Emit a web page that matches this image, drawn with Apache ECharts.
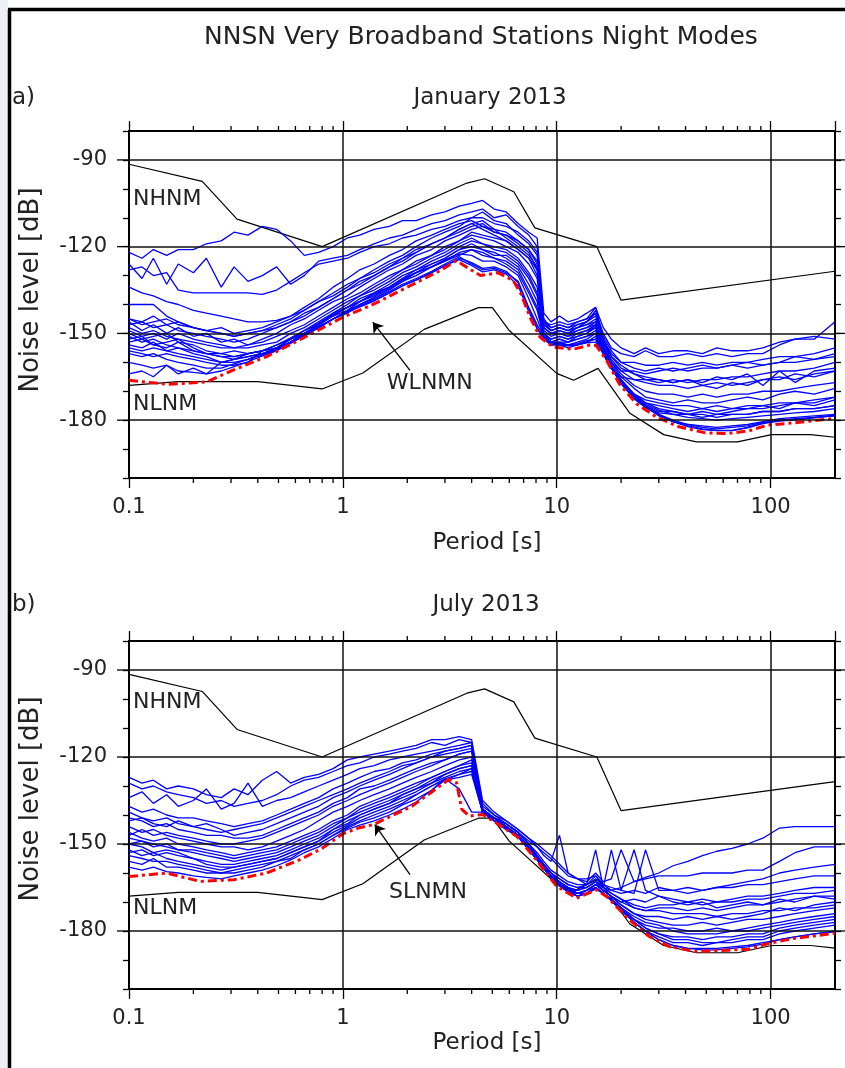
<!DOCTYPE html>
<html>
<head>
<meta charset="utf-8">
<script src="https://cdn.jsdelivr.net/npm/echarts@6/dist/echarts.min.js"></script>
<style>
  html, body { margin: 0; padding: 0; background: #fff; }
  #chart { width: 845px; height: 1068px; }
</style>
</head>
<body>
<div id="chart"></div>
<script>
// axis ranges (period in s, noise level in dB)
const X_MIN = 0.1, X_MAX = 200, Y_MIN = -200, Y_MAX = -80
const GRID_X = [1, 10, 100]
const GRID_Y = [-90, -120, -150, -180]
const MINOR_X = [0.2, 0.3, 0.4, 0.5, 0.6, 0.7, 0.8, 0.9, 2, 3, 4, 5, 6, 7, 8, 9, 20, 30, 40, 50, 60, 70, 80, 90]

// Peterson noise models
const NHNM_PERIODS = [0.1, 0.22, 0.32, 0.8, 3.8, 4.6, 6.3, 7.9, 15.4, 20, 200]
const NHNM_DB = [-91.5, -97.4, -110.5, -120, -98, -96.5, -101, -113.5, -120, -138.5, -128.5]
const NLNM_PERIODS = [0.1, 0.17, 0.4, 0.8, 1.24, 2.4, 4.3, 5, 6, 10, 12, 15.6, 21.9, 31.6, 45, 70, 101, 154, 200]
const NLNM_DB = [-168, -166.7, -166.7, -169.2, -163.7, -148.6, -141.1, -141.1, -149, -163.8, -166.2, -162.1, -177.5, -185, -187.5, -187.5, -185, -185, -185.9]

// network minimum (red dash-dot)
const WLNMN_PERIODS = [0.1, 0.15, 0.23, 0.3, 0.44, 0.63, 1.0, 1.4, 2.0, 2.85, 3.4, 3.7, 4.4, 5.3, 6.26, 6.8, 7.5, 8.35, 9.6, 11.9, 14.3, 15.3, 17.1, 19.6, 23.6, 29.2, 37.3, 49.5, 63, 79, 97, 130, 200]
const WLNMN_DB = [-166.2, -167.6, -166.8, -163, -158, -152.2, -144.4, -139.8, -134, -128.3, -124.8, -126.6, -130, -129, -131.7, -136.3, -144.4, -151.3, -154.7, -155.5, -154, -154.2, -159.3, -167.4, -174.3, -178.9, -182.3, -184.4, -184.6, -183.7, -181.7, -180.9, -179.4]
const SLNMN_PERIODS = [0.1, 0.15, 0.215, 0.31, 0.44, 0.63, 0.8, 1.0, 1.18, 1.39, 2.1, 3.14, 3.4, 3.6, 3.9, 4.5, 5.2, 6.5, 8.0, 10, 12.4, 15.3, 17.1, 21.9, 27.1, 33.7, 45, 63, 78.6, 97.5, 130, 200]
const SLNMN_DB = [-161.2, -160, -162.9, -162.3, -160, -155.4, -151.5, -146.5, -144.5, -143.3, -137, -127.7, -128.9, -138.1, -140.4, -139.8, -142.7, -147.3, -155.4, -164.6, -168.7, -165.8, -168.1, -176.2, -181.9, -185.4, -187.1, -186.6, -186.3, -184.3, -182.5, -180.8]

// station night modes, one value per period below
const PERIODS = [
  0.1, 0.115, 0.13, 0.15, 0.17,
  0.2, 0.23, 0.27, 0.31, 0.36,
  0.42, 0.49, 0.57, 0.66, 0.77,
  0.9, 1.05, 1.2, 1.4, 1.65,
  1.9, 2.2, 2.6, 3.0, 3.5,
  4.0, 4.5, 5.1, 5.8, 6.6,
  7.4, 8.1, 8.7, 9.4, 10.3,
  11.3, 12.5, 13.8, 15.2, 16.5,
  18, 20, 23, 26, 30,
  35, 41, 48, 56, 66,
  78, 92, 110, 130, 160, 200
]

const JAN_STATIONS = [
  [-122,-124,-121,-123,-121, -121,-119,-118,-115,-116, -113,-114,-118,-123,-122, -120,-117,-116,-114,-113, -111,-111,-109,-108,-106, -105,-104,-107,-108,-112, -115,-117,-143,-146,-144, -146,-145,-143,-141,-148, -152,-155,-157,-155,-157, -156,-156,-157,-155,-156, -156,-155,-153,-152,-151,-152],
  [-126,-131,-124,-133,-126, -129,-124,-134,-127,-132, -130,-127,-133,-130,-125, -124,-123,-121,-119,-117, -116,-114,-112,-111,-109, -108,-107,-110,-109,-113, -116,-120,-146,-147,-146, -147,-146,-145,-143,-150, -155,-157,-158,-156,-158, -158,-157,-158,-157,-158, -157,-157,-154,-152,-152,-146],
  [-128,-127,-130,-129,-135, -136,-136,-136,-136,-136, -136.5,-135,-132,-129,-126, -125,-124,-122,-120,-119, -117,-116,-114,-113,-111, -110,-110,-112,-113,-115, -118,-122,-145,-148,-147, -148,-147,-146,-144,-152, -157,-160,-160,-161,-161, -160,-161,-160,-161,-160, -160,-159,-158,-158,-157,-155],
  [-134,-136,-137,-139,-140, -142,-143,-144,-145,-146, -146,-145.5,-144,-141,-138, -134,-131,-128,-126,-123, -121,-118,-116,-114,-112, -111,-113,-115,-116,-118, -121,-125,-147,-149,-148, -149,-148,-147,-146,-154, -160,-163,-163,-164,-163, -162,-163,-162,-162,-161, -162,-161,-160,-160,-159,-158],
  [-140,-140,-140,-144,-146, -148,-149,-150,-151,-150, -149,-148,-146,-144,-141, -138,-135,-133,-130,-127, -125,-122,-119,-117,-114, -112,-114,-116,-118,-121, -124,-128,-148,-150,-149, -150,-149,-148,-147,-156, -162,-165,-166,-166,-167, -166,-167,-166,-166,-165, -165,-164,-163,-163,-162,-160],
  [-145,-146,-144,-147,-146, -148,-149,-148,-150,-149, -148,-146,-144,-142,-139, -136,-133,-131,-129,-126, -124,-121,-119,-117,-114, -112,-111,-114,-115,-118, -121,-126,-148,-150,-149, -150,-148,-147,-145,-153, -158,-161,-164,-165,-166, -167,-166,-168,-167,-168, -167,-166,-165,-166,-164,-163],
  [-148,-150,-149,-151,-152, -153,-154,-155,-155,-154, -153,-151,-149,-147,-144, -141,-138,-136,-133,-130, -128,-125,-123,-120,-118, -116,-117,-118,-120,-122, -126,-131,-149,-151,-150, -151,-150,-149,-148,-155, -160,-164,-168,-170,-171, -171,-172,-171,-172,-171, -171,-170,-170,-169,-168,-167],
  [-150,-152,-151,-150,-153, -154,-156,-157,-156,-157, -156,-154,-152,-149,-146, -143,-140,-137,-135,-132, -129,-127,-124,-122,-119, -117,-119,-120,-121,-124, -129,-134,-150,-152,-151, -152,-151,-150,-148,-156, -162,-167,-171,-173,-174, -175,-175,-176,-175,-176, -175,-175,-174,-174,-173,-172],
  [-152,-151,-154,-153,-152, -155,-157,-158,-159,-158, -157,-155,-153,-150,-148, -145,-142,-139,-137,-134, -131,-128,-126,-124,-121, -120,-121,-122,-124,-127, -133,-139,-151,-153,-152, -153,-152,-151,-149,-157, -162,-167.5,-172.5,-175.5,-177.5, -178,-178,-179,-178,-178, -178,-177,-177,-176,-176,-175],
  [-154,-155,-153,-156,-155, -157,-158,-160,-160,-159, -157.5,-155.5,-153,-150,-147.5, -145,-142.5,-140,-137.5,-134.5, -132,-130,-127,-125,-123, -121,-123,-124,-126,-129, -136,-142,-151,-154,-153, -154,-153,-152,-150,-157, -162,-166,-171,-174,-176, -177,-178,-178,-179,-178, -178,-177,-177,-176,-176,-175],
  [-156,-157,-158,-157,-158, -159,-160,-161,-161,-160, -156,-154,-151.5,-149,-146.5, -143.5,-141,-139,-136.5,-134, -131.5,-129,-127,-124.5,-122.5, -123,-125,-125,-127,-130, -138,-145,-151,-153,-153.5, -154,-154,-153,-151,-157, -162,-167,-172.5,-175.5,-178, -180,-181.5,-182,-182.5,-182, -181.5,-180.5,-179.5,-179,-178.5,-178],
  [-147,-146,-148,-147,-149, -150,-151,-152,-153,-152, -150,-148,-146,-143,-141, -138,-135,-132,-130,-127, -124,-122,-119,-117,-115, -113,-112,-115,-116,-119, -122,-128,-147,-149,-148, -149,-147,-146,-142,-153, -159,-163,-166,-167,-168, -168,-169,-168,-169,-167, -168,-166,-166,-164,-165,-163],
  [-149,-151,-150,-152,-150, -152,-153,-154,-155,-155, -154,-153,-150,-148,-145, -142,-139,-137,-134,-131, -128,-126,-123,-121,-118, -115,-116,-117,-118,-121, -124,-130,-148,-150,-150, -151,-149,-148,-146,-154, -160,-165,-169,-172,-173, -174,-173,-174,-174,-173, -172,-173,-171,-170,-171,-169],
  [-151,-153,-152,-154,-155, -156,-157,-158,-158,-157, -156,-155,-152,-150,-147, -144,-141,-138,-136,-133, -130,-128,-125,-123,-120, -118,-119,-121,-122,-125, -130,-136,-150,-152,-151, -152,-150,-149,-147,-155, -161,-166,-171,-174,-175, -176,-177,-176,-177,-176, -176,-175,-176,-174,-175,-173],
  [-153,-152,-154,-155,-153, -156,-157,-157,-158,-157, -156,-154,-152,-149,-147, -143,-141,-139,-136,-134, -131,-129,-126,-124,-121, -119,-121,-123,-123,-126, -131,-137,-150,-153,-152, -153,-151,-150,-147,-156, -162,-167,-172,-175,-177, -177,-178,-177,-178,-177, -176,-176,-175,-174,-174,-172],
  [-146,-149,-147,-150,-148, -151,-150,-153,-152,-154, -152,-150,-147,-145,-142, -139,-137,-134,-131,-128, -126,-123,-121,-118,-116, -114,-113,-114,-117,-120, -123,-127,-146,-149,-148, -149,-148,-146,-143,-152, -158,-162,-164,-166,-166, -167,-166,-167,-165,-166, -164,-168,-163,-167,-163,-162],
  [-155,-156,-155,-156,-157, -158,-159,-160,-159,-158, -157,-156,-153,-151,-148, -145,-143,-140,-138,-135, -132,-129,-127,-125,-122, -121,-122,-124,-125,-128, -135,-141,-151,-153,-153, -153,-152,-151,-150,-157, -162,-166.5,-171.5,-174.5,-176.5, -178,-179,-179.5,-180,-179.5, -179,-178.5,-178,-177.5,-177,-176],
  [-157,-158,-157,-159,-160, -161,-162,-162,-160.5,-159, -157,-155.5,-153,-150.5,-148, -145,-142.5,-140.5,-138.5,-136, -133.5,-131.5,-129,-126.5,-124, -125.5,-127.5,-127,-128.5,-132.5, -141.5,-148,-152,-154,-154, -155,-154,-153,-152,-157, -162,-167,-172.5,-175.5,-178.5, -180.5,-181.5,-182.5,-183,-182.5, -182,-180.8,-180,-179.5,-179,-178.3],
  [-145,-147,-146,-145,-147, -148,-149,-150,-151,-150, -149,-147,-145,-142,-139, -137,-134,-131,-128,-125, -123,-120,-117,-115,-113, -110,-108,-111,-112,-116, -119,-123,-146,-148,-147, -148,-146,-145,-141,-151, -156,-160,-162,-163,-162, -163,-162,-161,-162,-161, -160,-161,-160,-158,-159,-157],
  [-160,-161,-162,-161,-163, -163.5,-164,-163,-161.5,-159.8, -157.8,-156,-153.5,-150.8,-148, -145,-142.7,-140.8,-138.8,-136, -133.6,-131.6,-129,-126.5,-124.5, -126.5,-128.7,-128,-129.5,-133.5, -142.5,-148.5,-151.5,-153.5,-154, -154.3,-154,-153.3,-153,-157, -162,-167,-172.5,-175.5,-178.2, -180.5,-182.2,-183.3,-183.6,-183.6, -182.7,-181.2,-180.3,-179.9,-179.2,-178.4],
  [-164,-163,-165,-161,-164, -162,-164,-160,-159,-157, -156,-155,-152,-150,-147, -144,-142,-140,-138,-135.5, -133,-131,-128.5,-126,-123.5, -126,-128,-127.5,-129,-132, -141,-147,-151,-153,-153.5, -154,-153.5,-152.5,-152,-156, -161,-166,-171.5,-175,-178, -180.5,-182,-183,-183.5,-183.5, -182.5,-181,-180,-179.8,-179,-178.5]
]

const JUL_STATIONS = [
  [-127,-129,-128,-131,-130, -131,-133,-134,-131,-133, -128,-125,-129,-127,-126, -124,-121,-120,-119,-118, -117,-116,-114,-114,-113, -114,-135,-139,-142,-145, -148,-150,-152,-154,-157, -160,-162,-162,-161,-164, -166,-165,-163,-161.5,-160, -157.5,-156,-154,-152.5,-151.5, -150,-148,-144.5,-144,-144,-144],
  [-129,-131,-130,-132,-133, -134,-136,-135,-137,-136, -135,-133,-130,-128,-127, -125,-123,-122,-120,-119, -118,-117,-115,-116,-114, -115,-136,-140,-142,-145, -148,-151,-153,-155,-158, -161,-162,-163,-160,-163, -162,-152,-163,-162,-161, -161,-161,-160,-160,-160, -159,-159,-156,-153,-151,-151],
  [-134,-132,-136,-133,-137, -135,-131,-138,-136,-129, -137,-135,-134,-132,-130, -128,-126,-124,-123,-121, -120,-119,-118,-117,-116, -115,-138,-141,-143,-146, -149,-151,-154,-156,-147, -160,-162,-164,-152,-165, -166,-167,-166,-167,-165, -166,-165,-166,-165,-164, -163,-162,-160,-159,-158,-157],
  [-137,-139,-138,-140,-141, -141,-142,-143,-144,-143, -142,-140,-138,-136,-134, -131,-129,-127,-125,-124, -122,-121,-119,-118,-117, -116,-138,-141,-144,-147, -151,-154,-157,-160,-162, -164,-165,-164,-162,-165, -152,-166,-167,-152,-166, -166,-167,-166,-165,-165, -164,-164,-163,-162,-161,-161],
  [-141,-142,-144,-143,-145, -146,-147,-147,-148,-148, -147,-145,-143,-141,-139, -136,-134,-131,-130,-128, -126,-124,-122,-121,-119, -118,-139,-142,-144,-147, -152,-155,-158,-161,-163, -165,-166,-165,-163,-166, -168,-170,-169,-170,-168, -169,-170,-169,-170,-169, -168,-168,-167,-166,-165,-165],
  [-144,-146,-145,-147,-148, -149,-150,-151,-151,-152, -151,-149,-147,-145,-142, -139,-137,-135,-133,-131, -129,-127,-125,-123,-121, -120,-138,-142,-145,-147.5, -152,-155.5,-158.5,-161.5,-164, -165,-167,-166,-164,-166, -168,-170,-172,-173,-172, -172,-173,-172,-173,-172, -171,-171,-170,-169,-168,-168],
  [-146,-148,-149,-148,-150, -151,-152,-153,-154,-153, -152,-151,-149,-147,-145, -142,-140,-137,-135,-133, -131,-129,-127,-125,-123, -121,-139,-141,-145,-147, -151,-155,-158,-161,-163, -166,-167,-166,-164,-166, -168,-171,-174,-175,-175, -176,-175,-176,-175,-176, -175,-174,-172,-173,-171,-170],
  [-148,-149,-150,-151,-152, -153,-154,-155,-156,-155, -154,-153,-151,-149,-147, -144,-141,-139,-137,-135, -133,-131,-128,-126,-124, -123,-139,-142,-145,-147.5, -152,-155.5,-158.5,-161.5,-164, -166,-167,-166,-165,-167, -169,-172,-176,-178,-179, -179,-180,-180,-179,-180, -179,-178,-177,-176,-175,-174],
  [-150,-151,-153,-152,-153, -155,-156,-157,-157,-156, -155,-154,-152,-150,-148, -145,-143,-140,-138,-136, -134,-132,-129,-127,-125, -124,-138,-141,-144,-147, -151,-155,-158,-161,-164, -166,-167,-167,-165,-167, -169,-172,-176,-179,-181, -182,-182,-183,-182,-182, -181,-181,-179,-178,-177,-176],
  [-152,-154,-153,-155,-156, -157,-158,-159,-158,-157, -156,-155,-153,-151,-149, -146,-143.5,-141,-139,-137, -135,-133,-130,-128,-126, -124,-139,-142,-144.5,-147, -152,-155,-158,-161,-164, -166,-168,-167,-165,-167, -169.5,-173,-177,-180,-182, -184,-184,-185,-184,-184, -183,-183,-181,-180,-179,-178],
  [-154,-155,-156,-156,-157, -158,-159,-160,-159,-158, -157,-156,-154,-152,-150, -147,-144.5,-142.5,-141,-139, -136.5,-134.5,-131.5,-128,-127, -126,-139,-142,-144.5,-147, -151.5,-154.5,-158,-161,-164.5, -166.5,-168,-167,-165.5,-167, -169.5,-172.5,-177,-180,-183, -185,-186,-186,-186,-185.5, -185,-184,-183,-182,-181,-180],
  [-158,-159,-158,-159.5,-160, -161,-161.5,-162,-161,-160, -159,-157.5,-155.5,-153,-151, -148,-145,-143.5,-142,-140, -138,-135.5,-131.5,-127.5,-131, -139,-139,-142,-144.5,-147, -151.5,-154.5,-158,-161,-164.5, -166.5,-168,-167,-165.5,-167, -169.5,-172.5,-177,-180,-183, -185,-186,-186.5,-186.5,-186, -185.5,-184.5,-183,-182,-181,-180.3],
  [-156,-157,-155,-158,-158, -159,-160,-160,-160,-159, -158,-156,-155,-152,-150, -147,-144,-142,-140,-138, -136,-133,-130,-127.5,-126, -125,-139,-142,-144,-147, -152,-155,-158,-161,-164, -166,-168,-167,-165,-167, -169.5,-173,-176,-179,-181, -183,-183,-184,-184,-183, -182,-182,-180,-179,-178,-177],
  [-142,-141,-143,-144,-142, -144,-145,-146,-145,-144, -143,-141,-139,-137,-135, -133,-131,-129,-127,-125, -123,-122,-120,-119,-118, -117,-138,-141,-143,-146, -150,-154,-157,-160,-162, -164,-165,-165,-163,-165, -167,-169,-171,-172,-171, -171,-170,-171,-170,-170, -169,-169,-168,-167,-167,-166],
  [-139,-141,-142,-141,-143, -144,-143,-145,-147,-146, -145,-143,-141,-139,-137, -134,-132,-130,-128,-126, -124,-122,-120,-118,-117, -116,-137,-140,-143,-146, -150,-153,-156,-159,-161, -163,-164,-164,-161,-164, -165,-166,-152,-166,-168, -170,-171,-170,-172,-171, -170,-171,-169,-170,-168,-169],
  [-150,-149,-151,-150,-152, -152,-153,-154,-155,-154, -153,-152,-150,-148,-146, -143,-141,-138,-136,-134, -132,-130,-127,-125,-123, -122,-139,-141,-144,-147, -151,-155,-158,-161,-163, -165,-167,-166,-164,-166, -168,-171,-174,-176,-177, -178,-178,-177,-178,-177, -176,-176,-175,-174,-173,-172],
  [-147,-145,-147,-146,-147, -148,-149,-150,-150,-149, -148,-146,-144,-142,-140, -137,-135,-133,-131,-129, -127,-125,-123,-121,-119, -118,-138,-141,-143,-146, -150,-154,-157,-160,-163, -165,-166,-165,-163,-165, -167,-169,-172,-173,-173, -174,-174,-174,-175,-174, -174,-173,-173,-172,-172,-171],
  [-153,-152,-154,-153,-154, -155,-157,-158,-158,-157, -156,-155,-153,-151,-149, -145,-142,-140,-138,-136, -133,-131,-129,-126,-124, -123,-138,-141,-144,-147, -152,-155.5,-158.5,-161.5,-164, -166,-167,-167,-165,-167, -169,-172,-175,-177,-178, -180,-181,-181,-181,-180, -180,-179,-178,-177,-176,-175]
]

const FONT = 'DejaVu Sans'
const TEXT = '#222'

const PANELS = [
  {
    stations: JAN_STATIONS, minPeriods: WLNMN_PERIODS, minDb: WLNMN_DB, minName: 'WLNMN',
    nhnmLabel: [0.1044, -103.6], nlnmLabel: [0.1044, -174.5],
    minLabel: [2.55, -167.2], arrowFrom: [2.06, -162.8], arrowTo: [1.38, -146.1]
  },
  {
    stations: JUL_STATIONS, minPeriods: SLNMN_PERIODS, minDb: SLNMN_DB, minName: 'SLNMN',
    nhnmLabel: [0.1044, -101.1], nlnmLabel: [0.1044, -172],
    minLabel: [2.5, -166.5], arrowFrom: [2.06, -160.6], arrowTo: [1.41, -143.3]
  }
]

function toPairs(xs, ys, name) {
  if (xs.length !== ys.length) throw new Error(name + ': ' + ys.length + ' values for ' + xs.length + ' periods')
  return xs.map((x, i) => [x, ys[i]])
}

function logLabel(v) {
  const l = Math.log10(v)
  if (Math.abs(l - Math.round(l)) > 1e-6) return ''
  return v < 1 ? v.toFixed(1) : String(Math.round(v))
}

function renderTicks(params, api) {
  const style = { stroke: '#000', lineWidth: 1.3 }
  if (api.value(2) === 0) {
    const b = api.coord([api.value(0), Y_MIN])
    const t = api.coord([api.value(0), Y_MAX])
    return {
      type: 'group',
      children: [
        { type: 'line', shape: { x1: b[0], y1: b[1], x2: b[0], y2: b[1] + 5 }, style },
        { type: 'line', shape: { x1: t[0], y1: t[1], x2: t[0], y2: t[1] - 5 }, style }
      ]
    }
  }
  const l = api.coord([X_MIN, api.value(1)])
  const r = api.coord([X_MAX, api.value(1)])
  return {
    type: 'group',
    children: [
      { type: 'line', shape: { x1: l[0] - 12, y1: l[1], x2: l[0], y2: l[1] }, style },
      { type: 'line', shape: { x1: r[0], y1: r[1], x2: r[0] + 12, y2: r[1] }, style }
    ]
  }
}

const gridBoxes = [
  { left: 129, top: 131, width: 706, height: 347 },
  { left: 129, top: 641, width: 706, height: 348 }
]

const frameLine = { show: true, lineStyle: { color: '#000', width: 2 } }

const xAxes = []
const yAxes = []
const series = []

PANELS.forEach((panel, g) => {
  ;['bottom', 'top'].forEach((position) => {
    xAxes.push({
      type: 'log', logBase: 10, gridIndex: g, position, min: X_MIN, max: X_MAX,
      axisLine: frameLine,
      axisTick: { show: true, length: 10, lineStyle: { color: '#000', width: 1.3 } },
      axisLabel: {
        show: position === 'bottom', formatter: logLabel, margin: 19,
        color: TEXT, fontFamily: FONT, fontSize: 21, showMaxLabel: false
      },
      splitLine: { show: false },
      minorTick: { show: false }
    })
  })
  ;['left', 'right'].forEach((position) => {
    yAxes.push({
      type: 'value', gridIndex: g, position, min: Y_MIN, max: Y_MAX, interval: 10,
      axisLine: frameLine,
      axisTick: { show: true, length: 6, lineStyle: { color: '#000', width: 1.3 } },
      axisLabel: {
        show: position === 'left', margin: 22,
        formatter: (v) => (v % 30 === 0 ? String(v) : ''),
        color: TEXT, fontFamily: FONT, fontSize: 21
      },
      splitLine: { show: false }
    })
  })

  const axes = { xAxisIndex: 2 * g, yAxisIndex: 2 * g }
  const modelLine = { color: '#000', width: 1.2 }
  const modelLabel = { show: true, position: 'right', distance: 0, color: TEXT, fontFamily: FONT, fontSize: 22 }

  series.push({
    type: 'line', ...axes, name: 'NHNM', z: 2, silent: true, symbol: 'none',
    data: toPairs(NHNM_PERIODS, NHNM_DB, 'NHNM'),
    lineStyle: modelLine,
    markLine: {
      silent: true, symbol: 'none', label: { show: false },
      lineStyle: { color: '#111', width: 1.5, type: 'solid' },
      data: [...GRID_Y.map((v) => ({ yAxis: v })), ...GRID_X.map((v) => ({ xAxis: v }))]
    },
    markPoint: {
      silent: true, symbol: 'circle', symbolSize: 0,
      data: [{ coord: panel.nhnmLabel, label: { ...modelLabel, formatter: 'NHNM' } }]
    }
  })
  series.push({
    type: 'line', ...axes, name: 'NLNM', z: 2, silent: true, symbol: 'none',
    data: toPairs(NLNM_PERIODS, NLNM_DB, 'NLNM'),
    lineStyle: modelLine,
    markPoint: {
      silent: true, symbol: 'circle', symbolSize: 0,
      data: [{ coord: panel.nlnmLabel, label: { ...modelLabel, formatter: 'NLNM' } }]
    }
  })

  panel.stations.forEach((curve, i) => {
    series.push({
      type: 'line', ...axes, name: 'station ' + g + '-' + i, z: 3, silent: true,
      symbol: 'none', data: toPairs(PERIODS, curve, 'station ' + g + '-' + i),
      lineStyle: { color: '#0000ff', width: 1.3 }
    })
  })

  series.push({
    type: 'line', ...axes, name: panel.minName, z: 4, silent: true, symbol: 'none',
    data: toPairs(panel.minPeriods, panel.minDb, panel.minName),
    lineStyle: { color: '#ff0000', width: 3, type: [9, 4, 3, 4] },
    markLine: {
      silent: true, symbol: ['none', 'arrow'], symbolSize: 10, label: { show: false },
      lineStyle: { color: '#000', width: 1.3, type: 'solid' },
      data: [[{ coord: panel.arrowFrom }, { coord: panel.arrowTo }]]
    },
    markPoint: {
      silent: true, symbol: 'circle', symbolSize: 0,
      data: [{
        coord: panel.minLabel,
        label: { show: true, position: 'inside', formatter: panel.minName, color: TEXT, fontFamily: FONT, fontSize: 22 }
      }]
    }
  })

  series.push({
    type: 'custom', ...axes, name: 'ticks', z: 5, silent: true, clip: false,
    encode: { x: 0, y: 1 },
    renderItem: renderTicks,
    data: [...MINOR_X.map((p) => [p, Y_MIN, 0]), ...GRID_Y.map((v) => [X_MIN, v, 1])]
  })
})

function label(text, x, y, size, align, rotation) {
  return {
    type: 'text', x, y, rotation: rotation || 0, silent: true,
    style: { text, fill: TEXT, font: size + 'px "' + FONT + '"', textAlign: align || 'center', textVerticalAlign: 'middle' }
  }
}

const option = {
  animation: false,
  backgroundColor: '#fff',
  grid: gridBoxes.map((b) => ({ ...b, containLabel: false, outerBoundsMode: 'none' })),
  xAxis: xAxes,
  yAxis: yAxes,
  series,
  graphic: [
    { type: 'rect', shape: { x: 0, y: 0, width: 8, height: 1068 }, style: { fill: '#eceff5' }, silent: true },
    { type: 'line', shape: { x1: 9.5, y1: 9.5, x2: 9.5, y2: 1068 }, style: { stroke: '#000', lineWidth: 3.5 }, silent: true },
    { type: 'line', shape: { x1: 8, y1: 9.5, x2: 845, y2: 9.5 }, style: { stroke: '#000', lineWidth: 3.5 }, silent: true },
    label('NNSN Very Broadband Stations Night Modes', 481, 37, 25),
    label('a)', 12, 98, 23, 'left'),
    label('January 2013', 490, 98, 23),
    label('Period [s]', 487, 543, 23),
    label('Noise level [dB]', 31, 290, 26, 'center', Math.PI / 2),
    label('b)', 12, 605, 23, 'left'),
    label('July 2013', 486, 605, 23),
    label('Period [s]', 487, 1043, 23),
    label('Noise level [dB]', 31, 799, 26, 'center', Math.PI / 2)
  ]
}

const chart = echarts.init(document.getElementById('chart'), null, { renderer: 'canvas' })
chart.setOption(option)
</script>
</body>
</html>
